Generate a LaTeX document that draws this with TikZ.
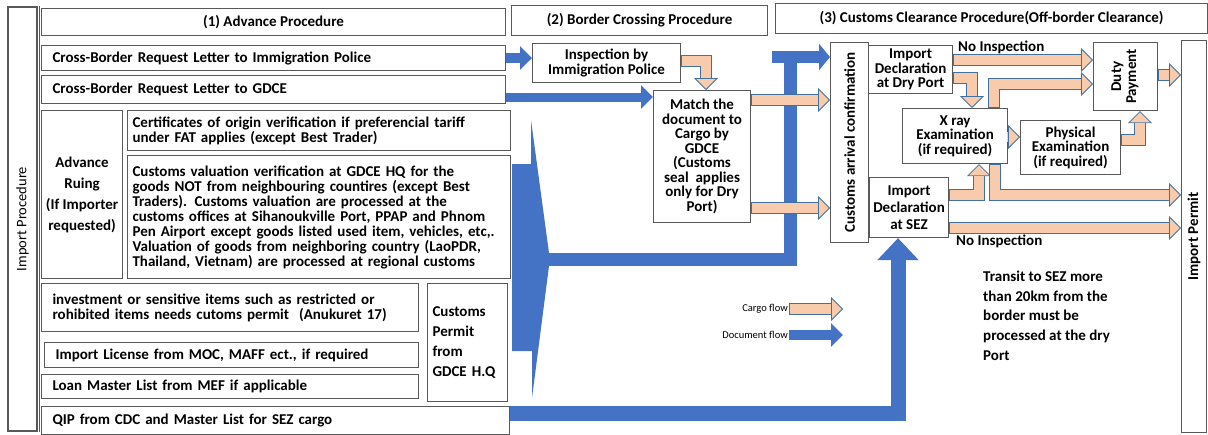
\documentclass[tikz,border=0pt]{standalone}
\usepackage{fontspec}
\setmainfont{Carlito}
\usetikzlibrary{arrows.meta}

\definecolor{docblue}{HTML}{4472C4}
\definecolor{cargofill}{HTML}{F8CBAD}
\definecolor{cargoline}{HTML}{41719C}
\definecolor{boxline}{HTML}{595959}

\begin{document}
\begin{tikzpicture}[x=1pt,y=-1pt,
  font=\fontsize{15}{15}\selectfont\bfseries,
  box/.style={draw=boxline,line width=1.1pt,anchor=north west,inner sep=0pt,align=center},
  lbox/.style={box,align=left,inner xsep=11pt},
  doc/.style={draw=docblue,line width=10pt,-{Triangle[length=12pt,width=23pt]}},
  cargo/.style={draw=cargoline,line width=11.6pt,
    -{Triangle[length=12pt,width=24pt,fill=cargofill,line width=0.8pt]},
    postaction={draw=cargofill,line width=9.8pt,-,shorten >=12pt,shorten <=0.8pt}}]
  \useasboundingbox (0,0) rectangle (1208,434);

  % left frame and headers
  \node[box,anchor=center,minimum width=29pt,minimum height=424pt,
        font=\fontsize{14.5}{15}\selectfont] (proc) at (22.5,219) {\rotatebox{90}{Import Procedure}};
  \draw[boxline,line width=1.1pt] ([xshift=2pt]proc.north east) -- ([xshift=2pt]proc.south east);
  \node[box,minimum width=464pt,minimum height=27pt] (advhdr) at (41,8) {(1) Advance Procedure};
  \node[box,minimum width=256pt,minimum height=30pt] (borderhdr) at (511,5) {(2) Border Crossing Procedure};
  \node[box,minimum width=432pt,minimum height=30pt] (clearhdr) at (775,3) {(3) Customs Clearance Procedure(Off-border Clearance)};

  % (1) advance procedure
  \node[lbox,text width=442pt,minimum height=25pt] (letip) at (41,45) {Cross-Border Request Letter to Immigration Police};
  \node[lbox,text width=442pt,minimum height=28pt] (letgdce) at (41,75) {Cross-Border Request Letter to GDCE};
  \node[box,minimum width=81pt,minimum height=168pt,font=\fontsize{15}{21}\selectfont\bfseries] (ruling) at (41,110)
    {Advance\\Ruing\\(If Importer\\requested)};
  \node[lbox,inner xsep=5pt,text width=373pt,minimum height=40pt] (origin) at (127,110)
    {Certificates of origin verification if preferencial tariff\\under FAT applies (except Best Trader)};
  \node[lbox,inner xsep=5pt,text width=373pt,minimum height=123pt] (valuation) at (127,155)
    {Customs valuation verification at GDCE HQ for the\\goods NOT from neighbouring countires (except Best\\Traders). Customs valuation are processed at the\\customs offices at Sihanoukville Port, PPAP and Phnom\\Pen Airport except goods listed used item, vehicles, etc,.\\Valuation of goods from neighboring country (LaoPDR,\\Thailand, Vietnam) are processed at regional customs};
  \node[lbox,text width=355pt,minimum height=48pt] (invest) at (41,283)
    {investment or sensitive items such as restricted or\\rohibited items needs cutoms permit\ \ (Anukuret 17)};
  \node[box,align=left,inner xsep=5pt,text width=70pt,minimum height=118pt,font=\fontsize{15}{20}\selectfont\bfseries] (cpermit) at (427,283)
    {Customs\\Permit\\from\\GDCE H.Q};
  \node[lbox,text width=352pt,minimum height=25pt] (licence) at (44,342) {Import License from MOC, MAFF ect., if required};
  \node[lbox,text width=355pt,minimum height=24pt] (loan) at (41,374) {Loan Master List from MEF if applicable};
  \node[lbox,text width=446pt,minimum height=28pt] (qip) at (41,406) {QIP from CDC and Master List for SEZ cargo};

  % (2) border crossing
  \node[box,minimum width=148pt,minimum height=39pt] (inspect) at (532,43) {Inspection by\\Immigration Police};
  \node[box,minimum width=97pt,minimum height=132pt,font=\fontsize{15}{14.5}\selectfont\bfseries] (match) at (653,90)
    {Match the\\document to\\Cargo by\\GDCE\\(Customs\\seal\ \ applies\\only for Dry\\Port)};

  % (3) customs clearance
  \node[box,minimum width=38pt,minimum height=200pt] (arrival) at (830,42) {\rotatebox{90}{Customs arrival confirmation}};
  \node[box,minimum width=84pt,minimum height=48pt,font=\fontsize{15}{14.5}\selectfont\bfseries] (dryport) at (868,45)
    {Import\\Declaration\\at Dry Port};
  \node[box,minimum width=105pt,minimum height=55pt,font=\fontsize{15}{14.5}\selectfont\bfseries] (xray) at (902,108)
    {X ray\\Examination\\(if required)};
  \node[box,minimum width=100pt,minimum height=54pt,font=\fontsize{15}{14.5}\selectfont\bfseries] (physical) at (1020,120)
    {Physical\\Examination\\(if required)};
  \node[box,minimum width=64pt,minimum height=68pt] (duty) at (1093,42)
    {\rotatebox{90}{\begin{tabular}{@{}c@{}}Duty\\Payment\end{tabular}}};
  \node[box,minimum width=79pt,minimum height=60pt,font=\fontsize{15}{17}\selectfont\bfseries] (sez) at (869,177)
    {Import\\Declaration\\at SEZ};
  \node[box,minimum width=25pt,minimum height=392pt] (permit) at (1181,40) {\rotatebox{90}{Import Permit}};

  \node[anchor=base west,inner sep=0pt] (noinsp1) at (958,51) {No Inspection};
  \node[anchor=west,inner sep=0pt] (noinsp2) at (956,241) {No Inspection};
  \node[anchor=north west,align=left,inner sep=0pt,font=\fontsize{15}{19.6}\selectfont\bfseries] (transit) at (983,271)
    {Transit to SEZ more\\than 20km from the\\border must be\\processed at the dry\\Port};

  % legend
  \node[anchor=east,inner sep=1pt,font=\fontsize{10.5}{12}\selectfont] (cargolbl) at (789,309) {Cargo flow};
  \node[anchor=east,inner sep=1pt,font=\fontsize{10.5}{12}\selectfont] (doclbl) at (789,335) {Document flow};
  \coordinate (cargoend) at (843,309);
  \coordinate (docend) at (843,335);
  \coordinate (wedgetip) at (549,259.5);
  \coordinate (docjoin) at (772,57);

  % document flow
  \draw[doc] (letip.east) -- (inspect.west |- letip.east);
  \draw[doc,line width=9pt] (letgdce.east |- 0,97) -- (match.west |- 0,97);
  \fill[docblue] (531,120) -- (549,253) -- (549,266) -- (532,398) -- (532,351) -- (512,351) -- (512,164) -- (531,164) -- cycle;
  \draw[docblue,line width=13pt] (wedgetip) -| (790.5,57);
  \draw[doc,line width=12pt,-{Triangle[length=11pt,width=26pt]}] (docjoin) -- (arrival.west |- docjoin);
  \draw[docblue,line width=15pt,-{Triangle[length=22pt,width=40pt]}] (qip.east |- 0,413) -| (898,0 |- sez.south);
  \draw[doc] (doclbl.east) -- (docend);

  % cargo flow
  \draw[cargo] (inspect.east |- 0,61) -| (706,0 |- match.north);
  \draw[cargo] (match.east |- 0,100) -- (arrival.west |- 0,100);
  \draw[cargo] (match.east |- 0,208) -- (arrival.west |- 0,208);
  \draw[cargo] (dryport.east |- 0,60) -- (duty.west |- 0,60);
  \draw[cargo] (dryport.east |- 0,78) -| (972,0 |- xray.north);
  \draw[cargo] (994,0 |- xray.north) |- (duty.west |- 0,84);
  \draw[cargo] (xray.east |- 0,137) -- (physical.west |- 0,137);
  \draw[cargo] (physical.east |- 0,140) -| (1140,0 |- duty.south);
  \draw[cargo] (duty.east |- 0,75) -- (permit.west |- 0,75);
  \draw[cargo] (sez.east |- 0,195) -| (979,0 |- xray.south);
  \draw[cargo] (995,0 |- xray.south) |- (permit.west |- 0,195);
  \draw[cargo] (sez.east |- 0,228) -- (permit.west |- 0,228);
  \draw[cargo] (cargolbl.east) -- (cargoend);
\end{tikzpicture}
\end{document}
